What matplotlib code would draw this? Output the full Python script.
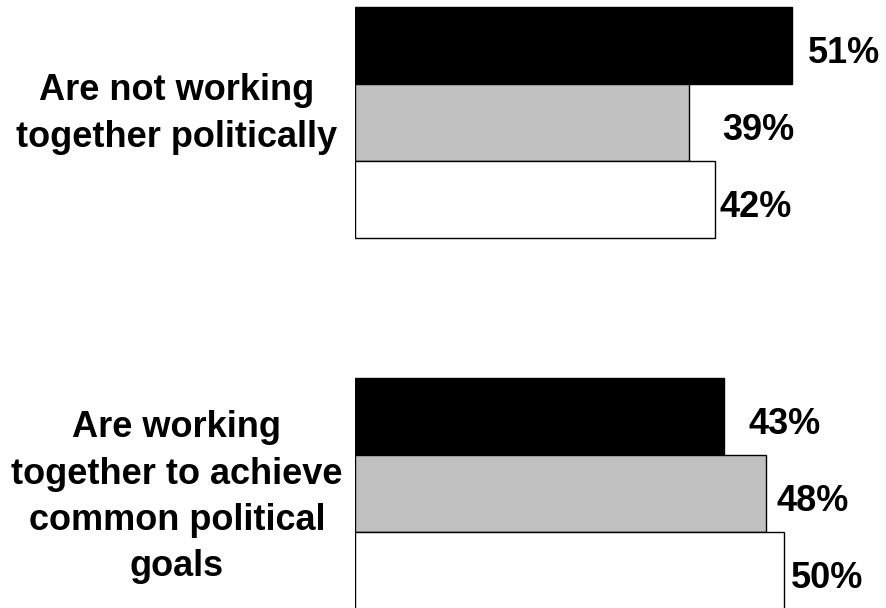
import matplotlib.pyplot as plt

plt.rcParams['font.family'] = ['Liberation Sans', 'DejaVu Sans']

# datos
categories = ["Are not working\ntogether politically",
              "Are working\ntogether to achieve\ncommon political\ngoals"]
series_colors = ["#000000", "#c0c0c0", "#ffffff"]
values = [[51, 39, 42],
          [43, 48, 50]]

# separaciones de las etiquetas (px) como en el original
label_pad = [[16, 33, 5],
             [25, 10, 7]]

fig = plt.figure(figsize=(8.86, 6.08), dpi=100)
ax = fig.add_axes([355 / 886, 0, 1 - 355 / 886, 1])

group_start = [0.0, 4.82]
label_y = [1.39, 6.37]

for g, vals in enumerate(values):
    for i, v in enumerate(vals):
        y = group_start[g] + i + 0.5
        ax.barh(y, v, height=1.0, left=0, color=series_colors[i],
                edgecolor='black', linewidth=1.0)
        # texto del porcentaje a la derecha de la barra
        ax.annotate(f"{v}%", xy=(v, y + 0.23), xytext=(label_pad[g][i] * 0.72, 0),
                    textcoords='offset points', ha='left', va='baseline',
                    fontsize=26, fontweight='bold')
    fig.text(177 / 886, 1 - (7 + label_y[g] * 77) / 608, categories[g],
             ha='center', va='center', fontsize=26, fontweight='bold',
             linespacing=1.42)

ax.set_xlim(0, (886 - 355) / 8.57)
ax.set_ylim(608 / 77 - 7 / 77, -7 / 77)
ax.axis('off')

plt.savefig("out.png")
